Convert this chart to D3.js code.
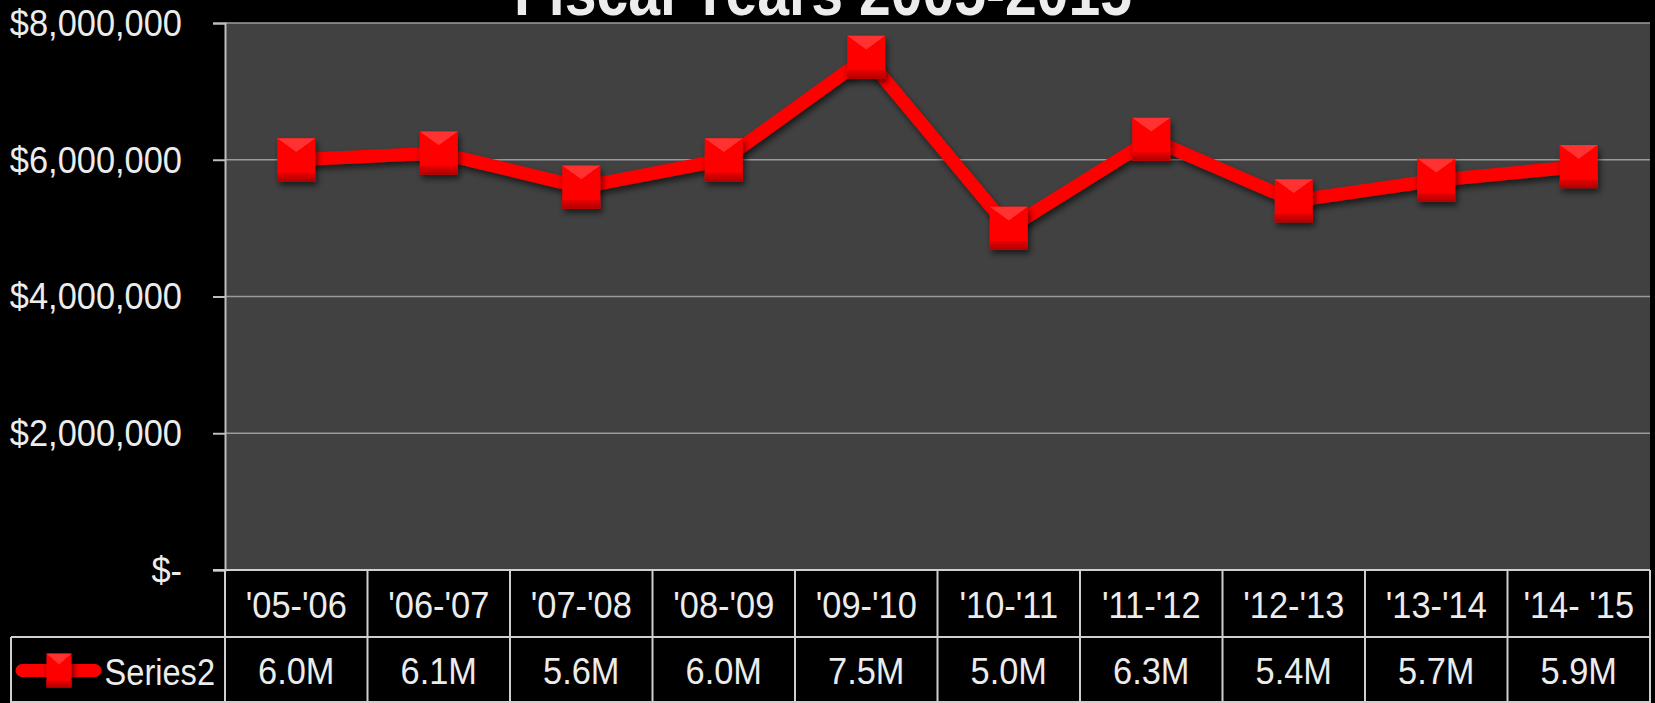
<!DOCTYPE html>
<html>
<head>
<meta charset="utf-8">
<script src="https://cdn.jsdelivr.net/npm/d3@7"></script>
<style>
  html, body { margin: 0; padding: 0; background: #000; }
  svg { display: block; }
  text { font-family: "Liberation Sans", "Open Sans", sans-serif; fill: #ececec; }
</style>
</head>
<body>
<svg id="chart" width="1655" height="703"></svg>
<script>
// Fiscal year periods (category axis)
const categories = ["'05-'06", "'06-'07", "'07-'08", "'08-'09", "'09-'10", "'10-'11", "'11-'12", "'12-'13", "'13-'14", "'14- '15"];
// Annual totals in dollars
const values = [6.0e6, 6.1e6, 5.6e6, 6.0e6, 7.5e6, 5.0e6, 6.3e6, 5.4e6, 5.7e6, 5.9e6];
// Value-axis ticks
const yTicks = [0, 2e6, 4e6, 6e6, 8e6];
const seriesName = "Series2";
const title = "Fiscal Years 2005-2015";

const W = 1655, H = 703;
const plot = { left: 225, right: 1650, top: 23, bottom: 570 };
const rowH = 67;       // height of one data-table row
const narrow = 0.93;   // horizontal condensing applied to all text
const fontSize = 37;

const svg = d3.select("#chart");

const x = d3.scaleBand().domain(categories).range([plot.left, plot.right]).paddingInner(0).paddingOuter(0);
const y = d3.scaleLinear().domain([0, 8e6]).range([plot.bottom, plot.top]);

const fmtMoney = v => v === 0 ? "$-" : "$" + d3.format(",")(v);
const fmtShort = v => (v / 1e6).toFixed(1) + "M";

// place a condensed text at (px, py)
function condensedText(g, px, py, str, anchor, size, sx = narrow) {
  return g.append("text")
    .attr("transform", `translate(${px},${py}) scale(${sx},1)`)
    .attr("text-anchor", anchor)
    .attr("dominant-baseline", "central")
    .attr("font-size", size)
    .text(str);
}

// defs: marker shading and soft shadow
const defs = svg.append("defs");
const shadow = defs.append("filter").attr("id", "shadow").attr("x", "-30%").attr("y", "-30%").attr("width", "170%").attr("height", "170%");
shadow.append("feGaussianBlur").attr("in", "SourceAlpha").attr("stdDeviation", 3).attr("result", "b");
shadow.append("feOffset").attr("in", "b").attr("dx", 2).attr("dy", 4).attr("result", "o");
shadow.append("feComponentTransfer").attr("in", "o").attr("result", "s")
  .append("feFuncA").attr("type", "linear").attr("slope", 0.6);
const merge = shadow.append("feMerge");
merge.append("feMergeNode").attr("in", "s");
merge.append("feMergeNode").attr("in", "SourceGraphic");

const bottomGrad = defs.append("linearGradient").attr("id", "bottomBand").attr("x1", 0).attr("y1", 0).attr("x2", 0).attr("y2", 1);
bottomGrad.append("stop").attr("offset", "0%").attr("stop-color", "#e80000");
bottomGrad.append("stop").attr("offset", "100%").attr("stop-color", "#b00000");

// plot background
svg.append("rect")
  .attr("x", plot.left).attr("y", plot.top)
  .attr("width", plot.right - plot.left).attr("height", plot.bottom - plot.top)
  .attr("fill", "#414141");

// horizontal gridlines
svg.append("g").selectAll("line").data(yTicks.filter(d => d > 0)).join("line")
  .attr("x1", plot.left).attr("x2", plot.right)
  .attr("y1", d => y(d)).attr("y2", d => y(d))
  .attr("stroke", "#9c9c9c").attr("stroke-width", 1.5);

// value axis
const labelOffset = 43;
const yAxis = svg.append("g")
  .attr("transform", `translate(${plot.left},0)`)
  .call(d3.axisLeft(y).tickValues(yTicks).tickFormat(fmtMoney).tickSize(12).tickPadding(31));
yAxis.select(".domain").attr("stroke", "#bdbdbd").attr("stroke-width", 2);
yAxis.selectAll(".tick line").attr("stroke", "#bdbdbd").attr("stroke-width", 2);
yAxis.selectAll(".tick text")
  .attr("x", 0).attr("dy", null)
  .attr("dominant-baseline", "central")
  .attr("transform", `translate(${-labelOffset},0) scale(${narrow},1)`)
  .attr("fill", "#ececec").attr("font-size", fontSize)
  .style("font-family", '"Liberation Sans", sans-serif');

// data table grid
const tbl = svg.append("g").attr("stroke", "#cfcfcf").attr("stroke-width", 2);
tbl.append("line").attr("x1", plot.left - 12).attr("x2", plot.right).attr("y1", plot.bottom).attr("y2", plot.bottom);
tbl.append("line").attr("x1", 11).attr("x2", plot.right).attr("y1", plot.bottom + rowH).attr("y2", plot.bottom + rowH);
tbl.append("line").attr("x1", 11).attr("x2", plot.right).attr("y1", H - 1).attr("y2", H - 1);
tbl.append("line").attr("x1", 11).attr("x2", 11).attr("y1", plot.bottom + rowH).attr("y2", H);
tbl.selectAll("line.col").data(categories.map(c => x(c)).concat([plot.right])).join("line")
  .attr("class", "col")
  .attr("x1", d => d).attr("x2", d => d)
  .attr("y1", plot.bottom).attr("y2", H);

// category labels (first table row)
const catG = svg.append("g");
categories.forEach(c => condensedText(catG, x(c) + x.bandwidth() / 2, plot.bottom + rowH / 2 + 2, c, "middle", fontSize));

// value labels (second table row)
const valG = svg.append("g");
values.forEach((v, i) => condensedText(valG, x(categories[i]) + x.bandwidth() / 2, plot.bottom + rowH * 1.5 + 1, fmtShort(v), "middle", fontSize));

// square marker with bevelled faces
function drawMarker(g, cx, cy, w, h) {
  const x0 = cx - w / 2, y0 = cy - h / 2;
  const m = g.append("g").attr("filter", "url(#shadow)");
  m.append("rect").attr("x", x0).attr("y", y0).attr("width", w).attr("height", h).attr("fill", "#ff0000");
  m.append("path")
    .attr("d", `M${x0},${y0}L${x0 + w},${y0}L${cx},${y0 + h * 0.32}Z`)
    .attr("fill", "#ff5a5a").attr("opacity", 0.55);
  m.append("rect").attr("x", x0).attr("y", y0 + h * 0.8).attr("width", w).attr("height", h * 0.2)
    .attr("fill", "url(#bottomBand)");
}

// series line
const line = d3.line()
  .x((d, i) => x(categories[i]) + x.bandwidth() / 2)
  .y(d => y(d));
svg.append("path")
  .datum(values)
  .attr("d", line)
  .attr("fill", "none")
  .attr("stroke", "#ff0000")
  .attr("stroke-width", 13)
  .attr("stroke-linejoin", "round")
  .attr("filter", "url(#shadow)");

const markers = svg.append("g");
values.forEach((v, i) => drawMarker(markers, x(categories[i]) + x.bandwidth() / 2, y(v), 38, 43));

// legend key in the table's row header
const lg = svg.append("g");
const legendY = plot.bottom + rowH * 1.5;
lg.append("line").attr("x1", 22).attr("x2", 95).attr("y1", legendY).attr("y2", legendY)
  .attr("stroke", "#ff0000").attr("stroke-width", 13).attr("stroke-linecap", "round");
drawMarker(lg, 59, legendY, 25, 34);
condensedText(lg, 215, legendY + 1, seriesName, "end", fontSize, 0.88);

// chart title (top edge)
svg.append("text")
  .attr("transform", `translate(823,15) scale(0.84,1)`)
  .attr("text-anchor", "middle")
  .attr("font-size", 68).attr("font-weight", "bold")
  .attr("fill", "#ffffff")
  .text(title);
</script>
</body>
</html>
